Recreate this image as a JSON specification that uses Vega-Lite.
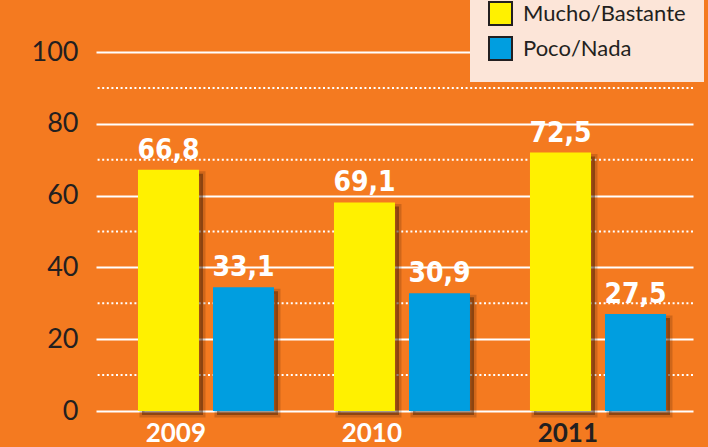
{
  "$schema": "https://vega.github.io/schema/vega-lite/v6.json",
  "autosize": "none",
  "width": 597,
  "height": 359,
  "padding": {"left": 96, "top": 52, "right": 15, "bottom": 36},
  "background": "#f47a20",
  "config": {"view": {"stroke": null}, "font": "Lato"},
  "datasets": {
    "bars": [
      {"year": "2009", "serie": "Mucho/Bastante", "valor": 67.2, "etiqueta": "66,8"},
      {"year": "2009", "serie": "Poco/Nada", "valor": 34.5, "etiqueta": "33,1"},
      {"year": "2010", "serie": "Mucho/Bastante", "valor": 58.1, "etiqueta": "69,1"},
      {"year": "2010", "serie": "Poco/Nada", "valor": 32.8, "etiqueta": "30,9"},
      {"year": "2011", "serie": "Mucho/Bastante", "valor": 72.0, "etiqueta": "72,5"},
      {"year": "2011", "serie": "Poco/Nada", "valor": 27.0, "etiqueta": "27,5"}
    ],
    "dotted": [{"v": 10}, {"v": 30}, {"v": 50}, {"v": 70}, {"v": 90}]
  },
  "resolve": {"scale": {"xOffset": "independent"}},
  "layer": [
    {
      "data": {"name": "dotted"},
      "mark": {"type": "rule", "color": "white", "strokeWidth": 2, "strokeDash": [2, 2.6]},
      "encoding": {"y": {"field": "v", "type": "quantitative", "scale": {"domain": [0, 100], "nice": false}}}
    },
    {
      "data": {"name": "bars"},
      "mark": {"type": "bar", "fill": "#3a1a05", "fillOpacity": 0.45, "stroke": "#3a1a05", "strokeWidth": 5, "strokeOpacity": 0.2, "yOffset": 4},
      "encoding": {
        "x": {"field": "year", "type": "nominal"},
        "xOffset": {"field": "serie", "type": "nominal", "scale": {"paddingInner": 0.1867, "paddingOuter": 0.0933, "align": 0.786}},
        "y": {"field": "valor", "type": "quantitative"}
      }
    },
    {
      "data": {"name": "bars"},
      "encoding": {
        "x": {
          "field": "year", "type": "nominal",
          "scale": {"paddingInner": 0.2347, "paddingOuter": 0.1403, "align": 0.636},
          "axis": {
            "title": null, "labelAngle": 0, "domain": false, "ticks": false,
            "labelFontSize": 26, "labelFontWeight": "bold", "labelPadding": 22,
            "labelColor": {"condition": {"test": "datum.value == '2011'", "value": "#231f20"}, "value": "white"}
          }
        },
        "xOffset": {"field": "serie", "type": "nominal", "scale": {"paddingInner": 0.1867, "paddingOuter": 0.0933, "align": 0.5}},
        "y": {
          "field": "valor", "type": "quantitative",
          "scale": {"domain": [0, 100], "nice": false},
          "axis": {
            "title": null, "domain": false, "ticks": false, "values": [0, 20, 40, 60, 80, 100],
            "labelFontSize": 27, "labelColor": "#231f20", "labelPadding": 18,
            "gridColor": "white", "gridWidth": 2, "gridOpacity": 1
          }
        }
      },
      "layer": [
        {
          "mark": {"type": "bar"},
          "encoding": {
            "color": {
              "field": "serie", "type": "nominal",
              "scale": {"domain": ["Mucho/Bastante", "Poco/Nada"], "range": ["#fff100", "#009ee0"]},
              "legend": {
                "title": null, "orient": "none", "legendX": 374, "legendY": -69,
                "fillColor": "#fce5d8", "padding": 18, "symbolType": "square", "symbolSize": 529,
                "symbolStrokeColor": "#231f20", "symbolStrokeWidth": 2, "symbolOpacity": 1,
                "labelFontSize": 22, "labelColor": "#231f20", "labelOffset": 10, "rowPadding": 4, "labelLimit": 300
              }
            }
          }
        },
        {
          "mark": {"type": "text", "color": "white", "font": "DejaVu Sans Condensed", "fontWeight": "bold", "fontSize": 28, "baseline": "alphabetic", "dy": -11},
          "encoding": {"text": {"field": "etiqueta"}}
        }
      ]
    }
  ]
}
